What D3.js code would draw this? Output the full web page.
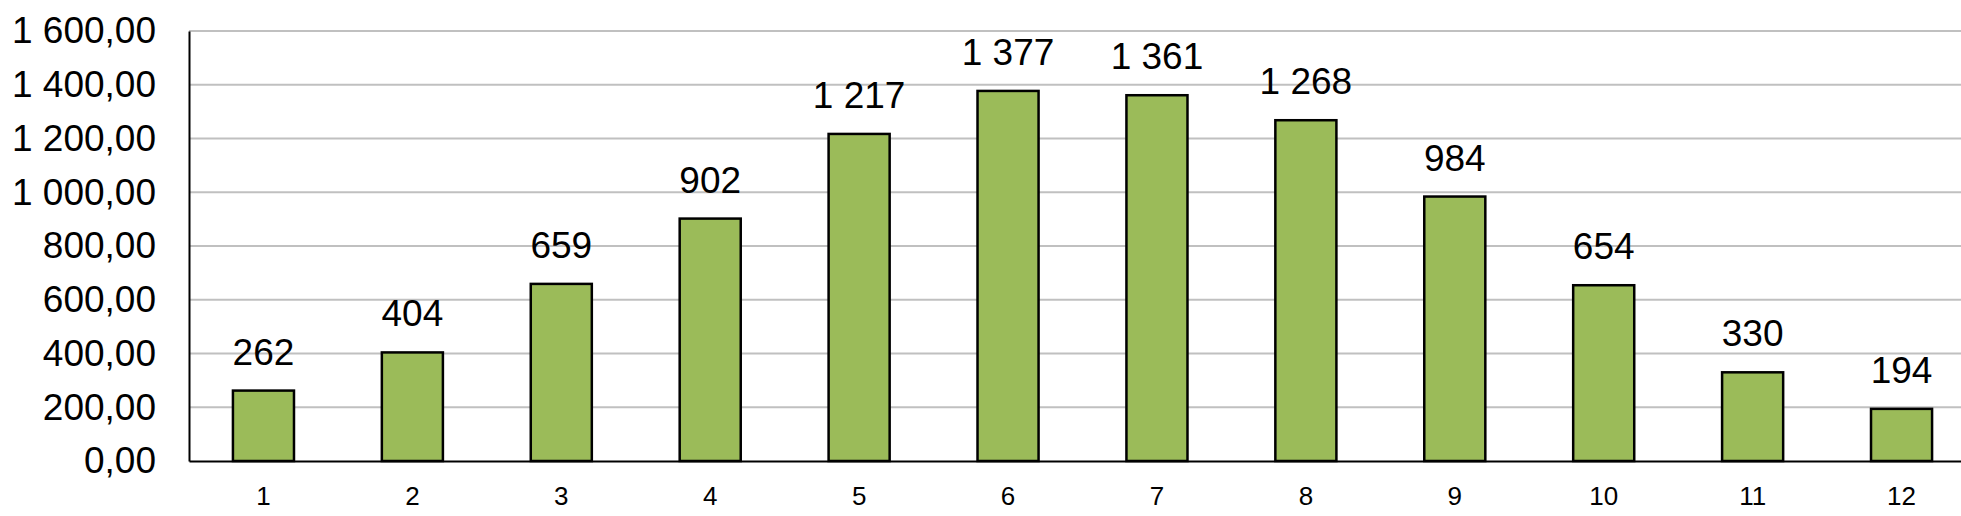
<!DOCTYPE html>
<html>
<head>
<meta charset="utf-8">
<script src="https://cdn.jsdelivr.net/npm/d3@7"></script>
<style>
  html, body { margin: 0; padding: 0; background: #fff; overflow: hidden; }
  svg { display: block; font-family: "Liberation Sans", Arial, sans-serif; }
</style>
</head>
<body>
<svg id="chart" width="1961" height="516"></svg>
<script>
const categories = ["1", "2", "3", "4", "5", "6", "7", "8", "9", "10", "11", "12"];
const values = [262, 404, 659, 902, 1217, 1377, 1361, 1268, 984, 654, 330, 194];
const yTicks = [0, 200, 400, 600, 800, 1000, 1200, 1400, 1600];

const W = 1961, H = 516;
const margin = { left: 189, top: 31, bottom: 461, right: 1976 };

const locale = d3.formatLocale({ decimal: ",", thousands: "\u00a0", grouping: [3], currency: ["", ""] });
const fmtTick = locale.format(",.2f");
const fmtVal = locale.format(",d");

const svg = d3.select("#chart");

const x = d3.scaleBand()
  .domain(categories)
  .range([margin.left, margin.right])
  .paddingInner(0.59)
  .paddingOuter(0.295);

const y = d3.scaleLinear()
  .domain([0, 1600])
  .range([margin.bottom, margin.top]);

// gridlines
svg.append("g")
  .selectAll("line")
  .data(yTicks.filter(d => d > 0))
  .join("line")
  .attr("x1", margin.left)
  .attr("x2", W)
  .attr("y1", d => y(d))
  .attr("y2", d => y(d))
  .attr("stroke", "#c0c0c0")
  .attr("stroke-width", 2);

// y axis
const yAxis = svg.append("g")
  .attr("transform", `translate(${margin.left},0)`)
  .call(d3.axisLeft(y).tickValues(yTicks).tickFormat(fmtTick).tickSize(0).tickPadding(33));
yAxis.select(".domain").attr("stroke", "#000").attr("stroke-width", 2);
yAxis.selectAll("text")
  .attr("font-size", 37)
  .attr("font-family", "Liberation Sans, Arial, sans-serif")
  .attr("fill", "#000");

// bars
svg.append("g")
  .selectAll("rect")
  .data(values)
  .join("rect")
  .attr("x", (d, i) => x(categories[i]))
  .attr("width", x.bandwidth())
  .attr("y", d => y(d))
  .attr("height", d => y(0) - y(d))
  .attr("fill", "#9BBB59")
  .attr("stroke", "#000")
  .attr("stroke-width", 2.5);

// x axis baseline
const xAxis = svg.append("g")
  .attr("transform", `translate(0,${margin.bottom})`)
  .call(d3.axisBottom(x).tickSize(0).tickPadding(26));
xAxis.select(".domain").attr("stroke", "#000").attr("stroke-width", 2);
xAxis.selectAll("text")
  .attr("font-size", 26)
  .attr("font-family", "Liberation Sans, Arial, sans-serif")
  .attr("fill", "#000");

// value labels
svg.append("g")
  .selectAll("text")
  .data(values)
  .join("text")
  .attr("x", (d, i) => x(categories[i]) + x.bandwidth() / 2)
  .attr("y", d => y(d) - 26)
  .attr("text-anchor", "middle")
  .attr("font-size", 37)
  .attr("fill", "#000")
  .text(d => fmtVal(d));
</script>
</body>
</html>
